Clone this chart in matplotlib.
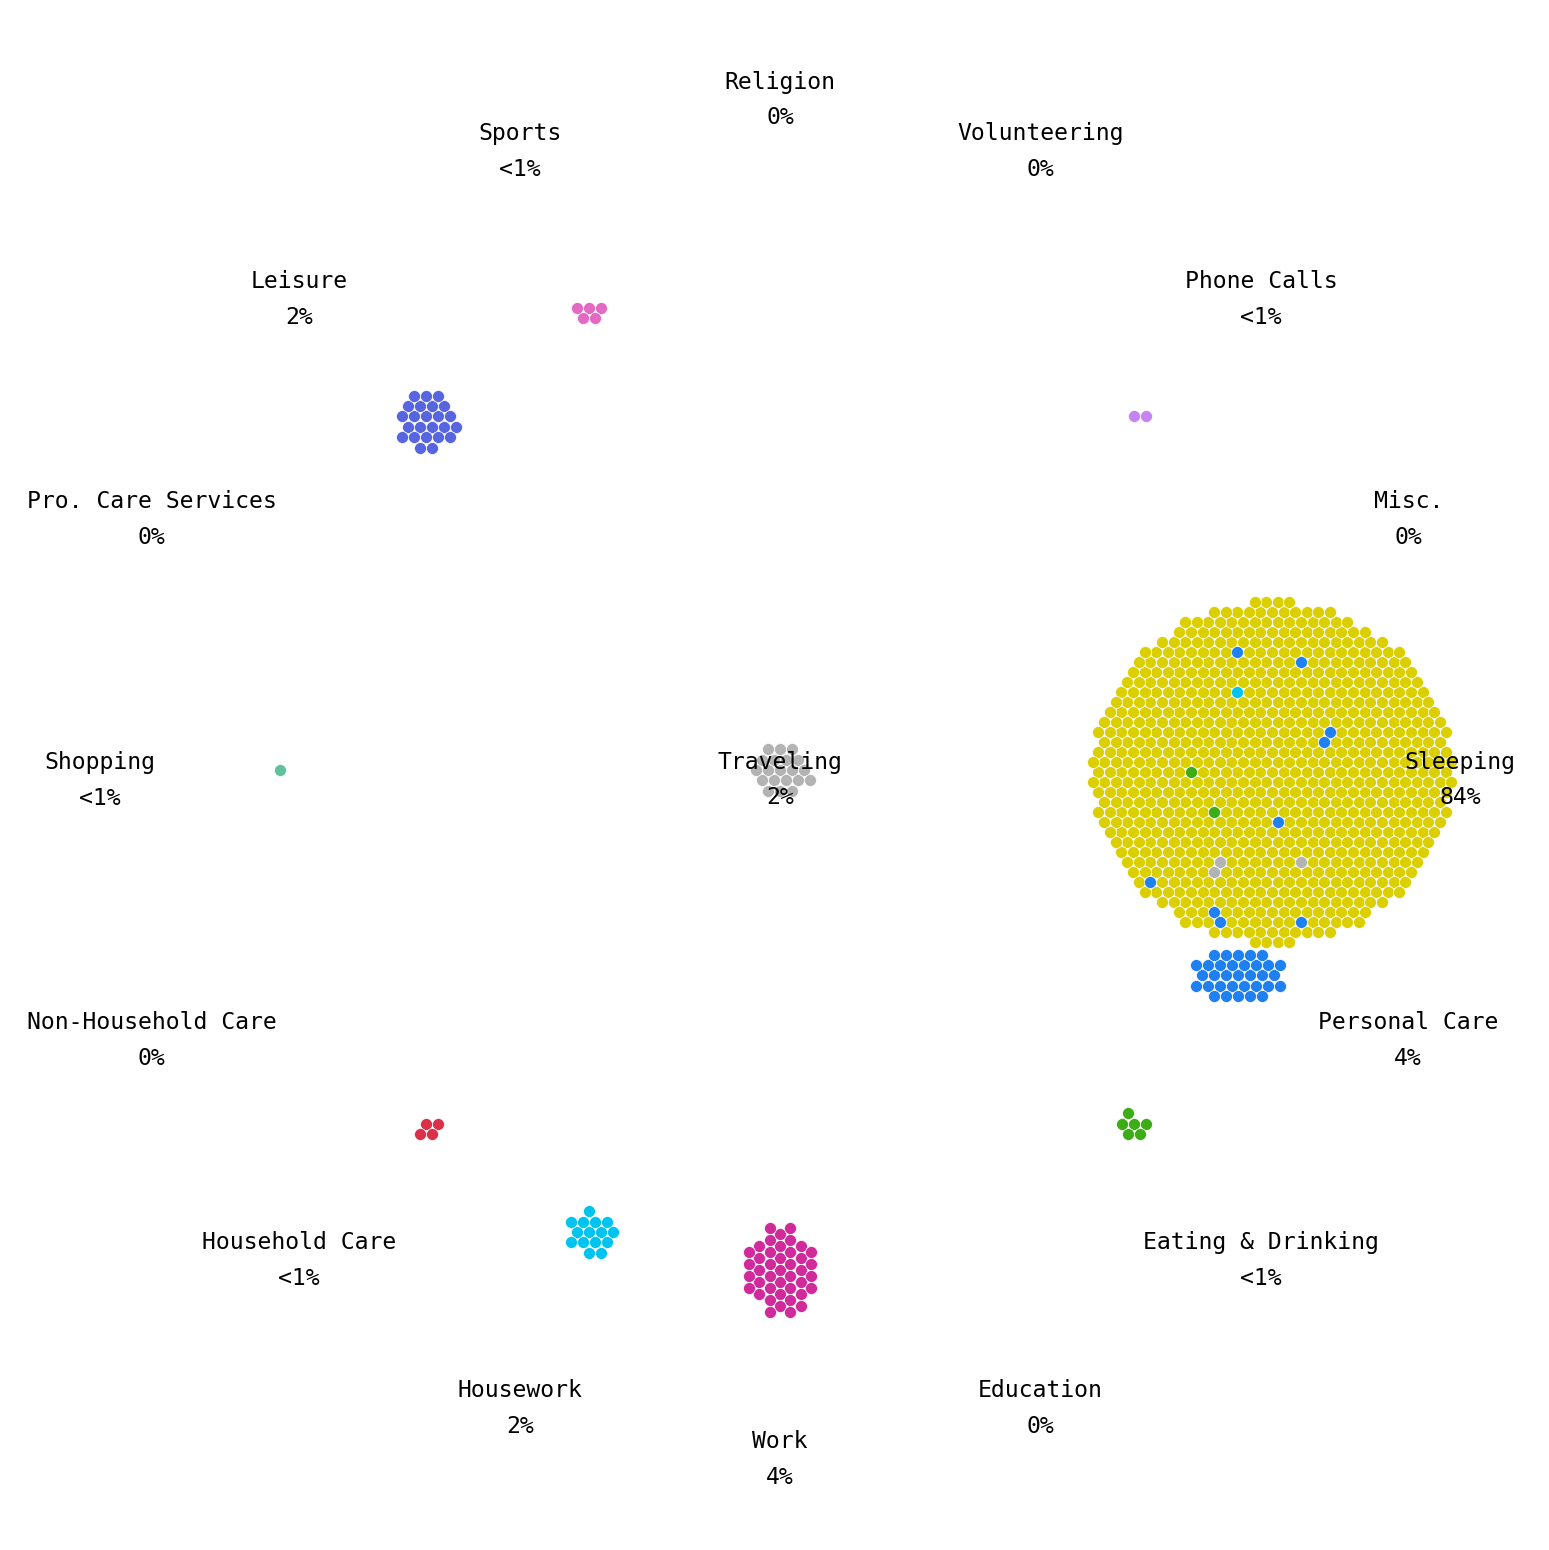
import numpy as np
import matplotlib
matplotlib.use('Agg')
import matplotlib.pyplot as plt

# activities around the circle, clockwise from the top
activities = ['Religion', 'Volunteering', 'Phone Calls', 'Misc.', 'Sleeping',
              'Personal Care', 'Eating & Drinking', 'Education', 'Work',
              'Housework', 'Household Care', 'Non-Household Care', 'Shopping',
              'Pro. Care Services', 'Leisure', 'Sports']
percent_labels = ['0%', '0%', '<1%', '0%', '84%', '4%', '<1%', '0%', '4%',
                  '2%', '<1%', '0%', '<1%', '0%', '2%', '<1%']
dot_counts = [0, 0, 2, 0, 838, 33, 6, 0, 42, 15, 4, 0, 1, 0, 24, 5]
dot_colors = ['#888888', '#888888', '#c583f5', '#888888', '#dccf00',
              '#1f80f2', '#3cad14', '#888888', '#d12a9b', '#00c3f0',
              '#dc3048', '#888888', '#5ec29a', '#888888', '#5765e0', '#e26ac2']

# centre node
center_name = 'Traveling'
center_percent = '2%'
center_count = 20
center_color = '#b3b3b3'

# people on the move, still inside the Sleeping cluster (lattice slot row/col)
transit_to = ['Personal Care'] * 9 + ['Housework'] + ['Eating & Drinking'] * 2 + ['Traveling'] * 3
transit_row = [-12, -11, -4, -3, 5, 11, 14, 15, 15, -8, 0, 4, 9, 10, 9]
transit_col = [-3, 2, 5, 4, 0, -11, -5, -5, 2, -3, -7, -5, -5, -5, 2]

W, H = 1549, 1550
CX, CY = 780, 780          # label circle centre
DX, DY = 780, 770          # dot circle centre
R_LABEL = 680
R_DOTS = 500
SPACING = 12.0
ROW_H = SPACING * np.sqrt(3) / 2

# cluster shape tweaks (squeezed where clusters push each other)
cluster_nudge = {'Sleeping': (-8, 2), 'Personal Care': (-4, 14)}
cluster_weight = {'Sleeping': (1.0, 1.05), 'Personal Care': (1.0, 1.6), 'Work': (1.25, 1.0)}
cluster_tight = {'Sleeping': 0.965}


def lattice(row, col):
    x = (col + 0.5 * (row % 2)) * SPACING
    y = row * ROW_H
    return x, y


grid = np.array([lattice(r, c) for r in range(-25, 26) for c in range(-25, 26)])


def pack(n, cx, cy, vertical=False, wx=1.0, wy=1.0, tight=1.0):
    p = grid[:, ::-1] if vertical else grid
    d = np.round(np.hypot(p[:, 0] * wx, p[:, 1] * wy), 3)
    a = np.arctan2(p[:, 1], p[:, 0]) % (2 * np.pi)
    order = np.lexsort((a, d))[:n]
    return p[order, 0] * tight + cx, p[order, 1] * tight + cy


fig = plt.figure(figsize=(W / 100, H / 100), dpi=100)
ax = fig.add_axes([0, 0, 1, 1])
ax.set_xlim(0, W)
ax.set_ylim(H, 0)
ax.axis('off')

s = (SPACING * 0.72) ** 2
font = dict(family=['DejaVu Sans Mono'], fontsize=16.7, color='black')

node_pos = {}
for k, name in enumerate(activities):
    ang = np.radians(90 - 22.5 * k)
    nx, ny = cluster_nudge.get(name, (0, 0))
    cx = DX + R_DOTS * np.cos(ang) + nx
    cy = DY - R_DOTS * np.sin(ang) + ny
    node_pos[name] = (cx, cy)
    if dot_counts[k] > 0:
        wx, wy = cluster_weight.get(name, (1.0, 1.0))
        xs, ys = pack(dot_counts[k], cx, cy, vertical=(name == 'Work'), wx=wx, wy=wy,
                      tight=cluster_tight.get(name, 1.0))
        ax.scatter(xs, ys, s=s, c=dot_colors[k], edgecolors='white', linewidths=0.5, zorder=2)

# traveling cluster in the middle
xs, ys = pack(center_count, DX, DY)
ax.scatter(xs, ys, s=s, c=center_color, edgecolors='white', linewidths=0.5, zorder=2)

# transit dots on top of the sleeping cluster
sx, sy = node_pos['Sleeping']
tight = cluster_tight['Sleeping']
color_of = dict(zip(activities, dot_colors))
color_of[center_name] = center_color
for dest, r, c in zip(transit_to, transit_row, transit_col):
    x, y = lattice(r, c)
    ax.scatter(sx + x * tight, sy + y * tight, s=s, c=color_of[dest],
               edgecolors='white', linewidths=0.5, zorder=3)

# labels
for k, name in enumerate(activities):
    ang = np.radians(90 - 22.5 * k)
    lx = CX + R_LABEL * np.cos(ang)
    ly = CY - R_LABEL * np.sin(ang)
    ax.text(lx, ly - 18, name, ha='center', va='center', zorder=5, **font)
    ax.text(lx, ly + 18, percent_labels[k], ha='center', va='center', zorder=5, **font)

ax.text(CX, CY - 18, center_name, ha='center', va='center', zorder=5, **font)
ax.text(CX, CY + 18, center_percent, ha='center', va='center', zorder=5, **font)

fig.savefig('out.png', dpi=100, facecolor='white')
